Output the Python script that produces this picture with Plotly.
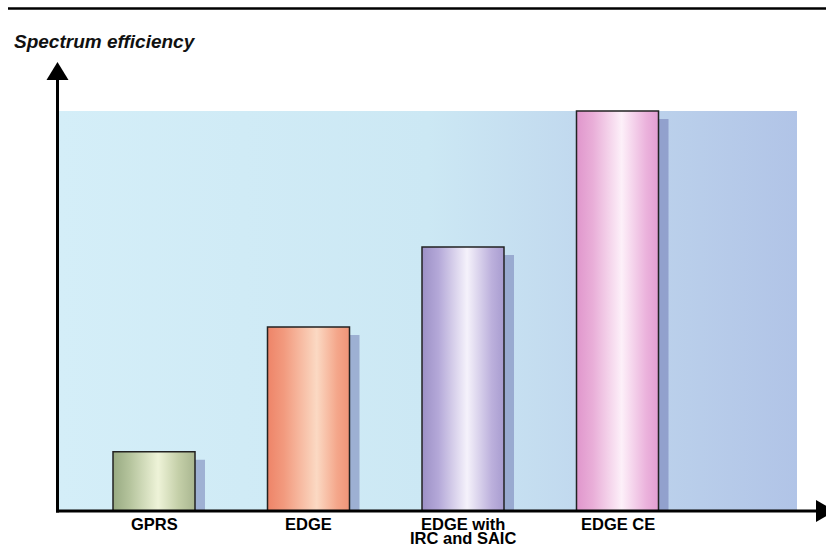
import plotly.graph_objects as go

# ---- data ----
categories = ["GPRS", "EDGE", "EDGE with<br>IRC and SAIC", "EDGE CE"]
efficiency = [0.148, 0.46, 0.66, 1.0]   # relative spectrum efficiency

# ---- styling ----
bar_scales = [
    [[0, "#98aa82"], [0.2, "#b4c39c"], [0.55, "#eef3d8"], [0.8, "#c4cfa8"], [1, "#a9b690"]],
    [[0, "#ee8468"], [0.2, "#f29a7e"], [0.6, "#fbd9c3"], [0.85, "#f4a68a"], [1, "#f09478"]],
    [[0, "#9c90c6"], [0.2, "#b4a8d8"], [0.55, "#f5f2fb"], [0.85, "#bcb0dc"], [1, "#a89cd0"]],
    [[0, "#e096cc"], [0.2, "#e9aed8"], [0.55, "#fdf0f9"], [0.85, "#ebb2dc"], [1, "#e29ed2"]],
]
panel_scale = [[0, "#d4eef8"], [0.5, "#cce8f4"], [0.78, "#bdd3ec"], [1, "#b1c4e7"]]
FONT = "Liberation Sans, Arial, sans-serif"

# plot-area geometry (pixels) and helpers to convert pixels to paper coords
L, T, W, H = 57, 63, 769, 448
STEP = 154.5          # pixels between category centres
FIRST = 154           # pixel of first category centre
PX_PER_UNIT_Y = 400   # pixels per unit on the value axis

def px(x):
    return (x - L) / W

def py(y):
    return (T + H - y) / H

x0 = -(FIRST - L) / STEP
x_range = [x0, x0 + W / STEP]
y_range = [0, H / PX_PER_UNIT_Y]

bar_w = 82 / STEP
shadow_dx = 10 / STEP
shadow_dy = 8 / PX_PER_UNIT_Y

fig = go.Figure()

# shaded backdrop panel spanning up to the tallest bar
top = max(efficiency)
bx0, bx1 = (58 - FIRST) / STEP, (797 - FIRST) / STEP
fig.add_trace(go.Scatter(
    x=[bx0, bx1, bx1, bx0, bx0], y=[0, 0, top, top, 0],
    mode="lines", line=dict(width=0), fill="toself",
    fillgradient=dict(type="horizontal", colorscale=panel_scale),
    hoverinfo="skip", showlegend=False,
))

# drop shadows
for i, v in enumerate(efficiency):
    l, r = i - bar_w / 2 + shadow_dx, i + bar_w / 2 + shadow_dx
    fig.add_trace(go.Scatter(
        x=[l, r, r, l, l], y=[0, 0, v - shadow_dy, v - shadow_dy, 0],
        mode="lines", line=dict(width=0), fill="toself",
        fillcolor="rgba(85,90,160,0.40)", hoverinfo="skip", showlegend=False,
    ))

# bars with cylindrical shading
for i, (v, cs) in enumerate(zip(efficiency, bar_scales)):
    l, r = i - bar_w / 2, i + bar_w / 2
    fig.add_trace(go.Scatter(
        x=[l, r, r, l, l], y=[0, 0, v, v, 0],
        mode="lines", line=dict(color="#222222", width=1.5), fill="toself",
        fillgradient=dict(type="horizontal", colorscale=cs),
        name=categories[i].replace("<br>", " "), hoverinfo="name", showlegend=False,
    ))

# category labels under the axis
annotations = []
for i, cat in enumerate(categories):
    for k, line in enumerate(cat.split("<br>")):
        annotations.append(dict(
            x=i, xref="x", y=py(524 + 14 * k), yref="paper",
            text=f"<b>{line}</b>", showarrow=False, borderpad=0,
            xanchor="center", yanchor="middle",
            font=dict(family=FONT, size=16.5, color="#000000"),
        ))

# axis title
annotations.append(dict(
    x=px(12), xref="paper", y=py(41), yref="paper",
    text="<b><i>Spectrum efficiency</i></b>", showarrow=False,
    xanchor="left", yanchor="middle",
    font=dict(family=FONT, size=19, color="#111111"),
))

def tri(pts):
    p = [f"{px(a):.5f},{py(b):.5f}" for a, b in pts]
    return "M " + " L ".join(p) + " Z"

shapes = [
    # rule across the top
    dict(type="line", xref="paper", yref="paper", x0=px(8), x1=px(826),
         y0=py(8.5), y1=py(8.5), line=dict(color="black", width=2.5)),
    # value axis with arrow
    dict(type="line", xref="paper", yref="paper", x0=px(57.5), x1=px(57.5),
         y0=py(512.5), y1=py(76), line=dict(color="black", width=3)),
    dict(type="path", xref="paper", yref="paper",
         path=tri([(57.5, 62), (46.5, 80), (68.5, 80)]),
         fillcolor="black", line=dict(width=0)),
    # category axis with arrow
    dict(type="line", xref="paper", yref="paper", x0=px(56), x1=px(820),
         y0=py(511), y1=py(511), line=dict(color="black", width=3)),
    dict(type="path", xref="paper", yref="paper",
         path=tri([(816, 500), (816, 522), (835, 511)]),
         fillcolor="black", line=dict(width=0)),
]

fig.update_layout(
    width=826, height=547,
    margin=dict(l=L, r=826 - L - W, t=T, b=547 - T - H),
    paper_bgcolor="white", plot_bgcolor="rgba(0,0,0,0)",
    xaxis=dict(range=x_range, visible=False, fixedrange=True),
    yaxis=dict(range=y_range, visible=False, fixedrange=True),
    annotations=annotations, shapes=shapes,
    showlegend=False,
)

fig.write_html("out.html")
